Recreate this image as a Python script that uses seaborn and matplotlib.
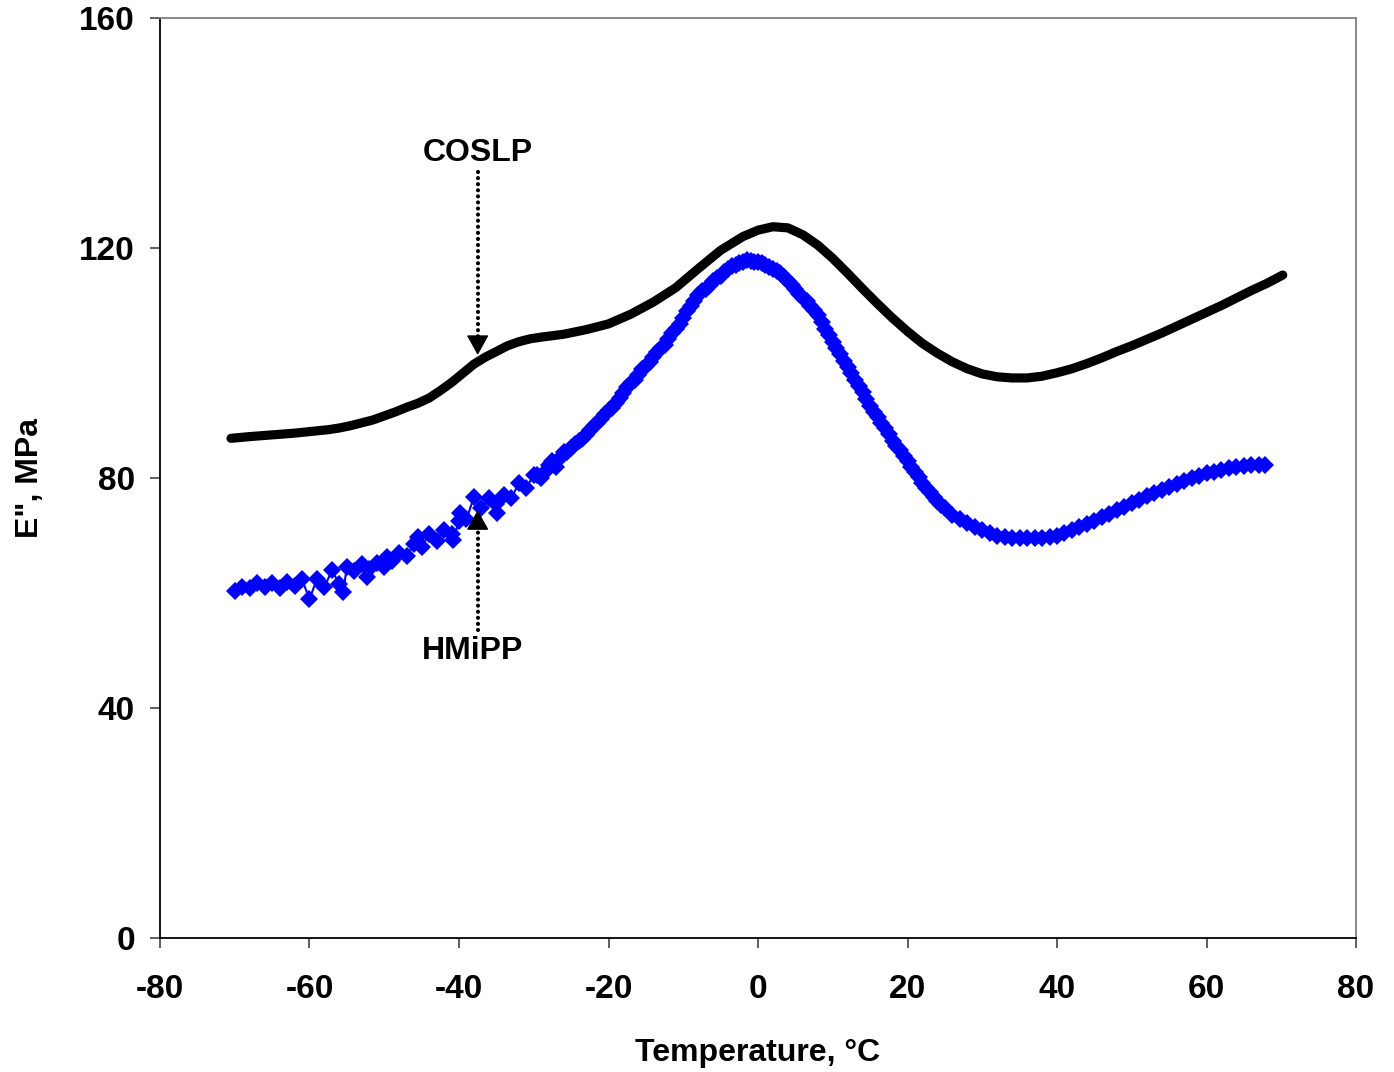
import matplotlib
matplotlib.use("Agg")
import matplotlib.pyplot as plt
import seaborn as sns
import pandas as pd

# ---- data ----
coslp_T = [-70.5, -68, -66.5, -65, -62, -59, -57.5, -56, -54.5, -53, -51.5, -50, -48.5, -47,
           -45.5, -44, -42.5, -41, -39.5, -38, -36.5, -35, -33.5, -32, -30.5, -29, -26,
           -23, -20, -17, -14, -11, -8, -5, -2, 0, 2, 4, 6, 8, 10, 12, 14, 16, 18, 20, 22,
           24, 26, 28, 30, 32, 34, 36, 38, 40, 42, 44, 46, 48, 50, 52, 54, 56, 58, 60, 62,
           64, 66, 68, 70.2]
coslp_E = [86.9, 87.2, 87.35, 87.5, 87.8, 88.2, 88.4, 88.7, 89.1, 89.6, 90.1, 90.8, 91.5, 92.3,
           93.0, 93.9, 95.2, 96.6, 98.2, 99.8, 101.0, 102.0, 103.0, 103.7, 104.2,
           104.5, 105.0, 105.8, 106.8, 108.5, 110.6, 113.1, 116.4, 119.6, 122.0, 123.1, 123.7,
           123.5, 122.3, 120.5, 118.2, 115.6, 112.9, 110.3, 107.8, 105.5, 103.4, 101.7, 100.2,
           99.0, 98.1, 97.6, 97.4, 97.4, 97.7, 98.3, 99.0, 99.9, 100.9, 102.0, 103.0, 104.1,
           105.2, 106.4, 107.6, 108.8, 110.0, 111.3, 112.6, 113.8, 115.3]

hmipp_T = [-70, -69, -68, -67, -66, -65, -64, -63, -62, -61, -60, -59, -58, -57, -56, -55.5,
           -55, -54, -53, -52.3, -52, -51, -50, -49.6, -49, -48, -47, -46, -45.5, -45, -44,
           -43, -42, -41, -40.8, -40, -39.9, -39, -38, -37, -36, -35, -34.9, -34, -33, -32,
           -31, -30, -29, -28, -27, -26, -25, -24, -23, -22, -21, -20, -19, -18, -17, -16,
           -15, -14, -13, -12, -11, -10, -9, -8, -7, -6, -5, -4, -3, -2, -1, 0, 1, 2, 3, 4,
           5, 6, 7, 8, 9, 10, 11, 12, 13, 14, 15, 16, 17, 18, 19, 20, 21, 22, 23, 24, 25,
           26, 27, 28, 29, 30, 31, 32, 33, 34, 35, 36, 37, 38, 39, 40, 41, 42, 43, 44, 45,
           46, 47, 48, 49, 50, 51, 52, 53, 54, 55, 56, 57, 58, 59, 60, 61, 62, 63, 64, 65,
           66, 67, 67.8,
           # extra readings between whole degrees on the steep part
           -29.5, -28.5, -27.5, -26.5, -25.5, -24.5, -23.5, -22.5, -21.5, -20.5, -19.5,
           -18.5, -17.5, -16.5, -15.5, -14.5, -13.5, -12.5, -11.5, -10.5, -9.5, -8.5, -7.5,
           -6.5, -5.5, -4.5, -3.5, -2.5, -1.5, -0.5, 0.5, 1.5, 2.5, 3.5, 4.5, 5.5, 6.5, 7.5,
           8.5, 9.5, 10.5, 11.5, 12.5, 13.5, 14.5, 15.5, 16.5, 17.5, 18.5, 19.5, 20.5, 21.5,
           22.5, 23.5, 24.5]
hmipp_E = [60.3, 61.0, 60.8, 61.7, 61.0, 61.8, 60.8, 62.0, 61.2, 62.4, 58.9, 62.5, 61.0, 64.0,
           61.5, 60.2, 64.5, 63.8, 65.0, 62.8, 64.2, 65.3, 64.6, 66.3, 65.5, 67.0, 66.5, 68.5,
           69.8, 68.0, 70.2, 69.0, 71.0, 70.3, 69.2, 72.5, 73.9, 72.8, 76.7, 74.8, 76.5, 75.5,
           73.9, 77.0, 76.5, 79.1, 78.3, 80.5, 80.0, 82.2, 82.0, 84.5, 85.2, 86.4, 87.5, 89.0,
           90.2, 91.8, 93.0, 94.8, 96.5, 98.0, 99.5, 101.0, 102.6, 104.2, 106.0, 107.8, 110.0,
           111.8, 112.9, 114.2, 115.2, 116.3, 117.0, 117.6, 117.8, 117.6, 117.0, 116.4, 115.6,
           114.3, 112.8, 111.3, 110.0, 108.3, 106.0, 103.6, 101.5, 99.3, 97.1, 95.0, 92.5,
           90.6, 88.7, 86.5, 84.8, 83.0, 81.0, 79.2, 77.5, 76.0, 74.7, 73.6, 72.8, 72.1, 71.4,
           70.9, 70.4, 70.0, 69.8, 69.6, 69.5, 69.5, 69.5, 69.6, 69.8, 70.0, 70.4, 70.9, 71.5,
           72.0, 72.6, 73.2, 73.8, 74.4, 75.0, 75.6, 76.2, 76.8, 77.4, 78.0, 78.5, 79.0, 79.5,
           80.0, 80.4, 80.8, 81.1, 81.4, 81.7, 81.9, 82.1, 82.2, 82.3, 82.3,
           80.6, 81.0, 83.0, 83.4, 84.6, 86.0, 86.8, 88.4, 89.5, 91.2, 92.2,
           94.0, 95.9, 97.1, 98.9, 100.2, 101.9, 103.2, 105.3, 106.7, 109.1, 110.8, 112.5,
           113.4, 114.8, 115.8, 116.8, 117.4, 117.9, 117.5, 117.4, 116.7, 116.0, 115.0, 113.6,
           112.0, 110.7, 109.2, 107.2, 104.8, 102.6, 100.4, 98.2, 96.0, 93.8, 91.5, 89.6,
           87.6, 85.6, 83.9, 82.0, 80.1, 78.3, 76.7, 75.3]

x_ticks = [-80, -60, -40, -20, 0, 20, 40, 60, 80]
y_ticks = [0, 40, 80, 120, 160]

# ---- style ----
sns.set_style("ticks")
plt.rcParams["font.family"] = ["Liberation Sans", "DejaVu Sans"]
plt.rcParams["font.weight"] = "bold"
plt.rcParams["text.color"] = "black"
plt.rcParams["axes.labelcolor"] = "black"

fig = plt.figure(figsize=(13.94, 10.72), dpi=100)
ax = fig.add_axes([160 / 1394, (1072 - 938) / 1072, 1196 / 1394, 920 / 1072])

df_c = pd.DataFrame({"T": coslp_T, "E": coslp_E})
df_h = pd.DataFrame({"T": hmipp_T, "E": hmipp_E})

sns.lineplot(data=df_h, x="T", y="E", ax=ax, color="#0000FF", linewidth=1.5,
             marker="D", markersize=9, markeredgewidth=0, estimator=None, sort=True)
sns.lineplot(data=df_c, x="T", y="E", ax=ax, color="black", linewidth=6.6,
             estimator=None, sort=True, solid_capstyle="round", solid_joinstyle="round")

ax.set_xlim(-80, 80)
ax.set_ylim(0, 160)
ax.set_xticks(x_ticks)
ax.set_yticks(y_ticks)
ax.set_xticklabels([str(v) for v in x_ticks], fontsize=24, fontweight="bold")
ax.set_yticklabels([str(v) for v in y_ticks], fontsize=24, fontweight="bold")
ax.tick_params(axis="x", direction="out", length=7, width=1.1, pad=19,
               color="#333333", labelcolor="black")
ax.tick_params(axis="y", direction="out", length=7, width=1.1, pad=11,
               color="#333333", labelcolor="black")

for side in ["left", "bottom"]:
    ax.spines[side].set_color("black")
    ax.spines[side].set_linewidth(1.3)
for side in ["top", "right"]:
    ax.spines[side].set_visible(True)
    ax.spines[side].set_color("#808080")
    ax.spines[side].set_linewidth(1.3)

ax.set_xlabel("Temperature, °C", fontsize=23, fontweight="bold", labelpad=24)
ax.set_ylabel('E", MPa', fontsize=23, fontweight="bold", labelpad=25)

# ---- annotations ----
dot = dict(color="black", linewidth=3.0, linestyle=(0, (0.01, 1.45)),
           dash_capstyle="round")
head = dict(arrowstyle="-|>,head_length=0.45,head_width=0.25", mutation_scale=28,
            color="black", lw=1, shrinkA=0, shrinkB=0)

ax.text(-37.5, 136.5, "COSLP", fontsize=23, fontweight="bold", ha="center", va="center")
ax.plot([-37.5, -37.5], [133.2, 104.5], **dot)
ax.annotate("", xy=(-37.5, 101.4), xytext=(-37.5, 104.6), arrowprops=head)

ax.text(-38.2, 49.9, "HMiPP", fontsize=23, fontweight="bold", ha="center", va="center")
ax.plot([-37.5, -37.5], [53.6, 71.3], **dot)
ax.annotate("", xy=(-37.5, 74.4), xytext=(-37.5, 71.2), arrowprops=head)

fig.savefig("out.png", dpi=100)
